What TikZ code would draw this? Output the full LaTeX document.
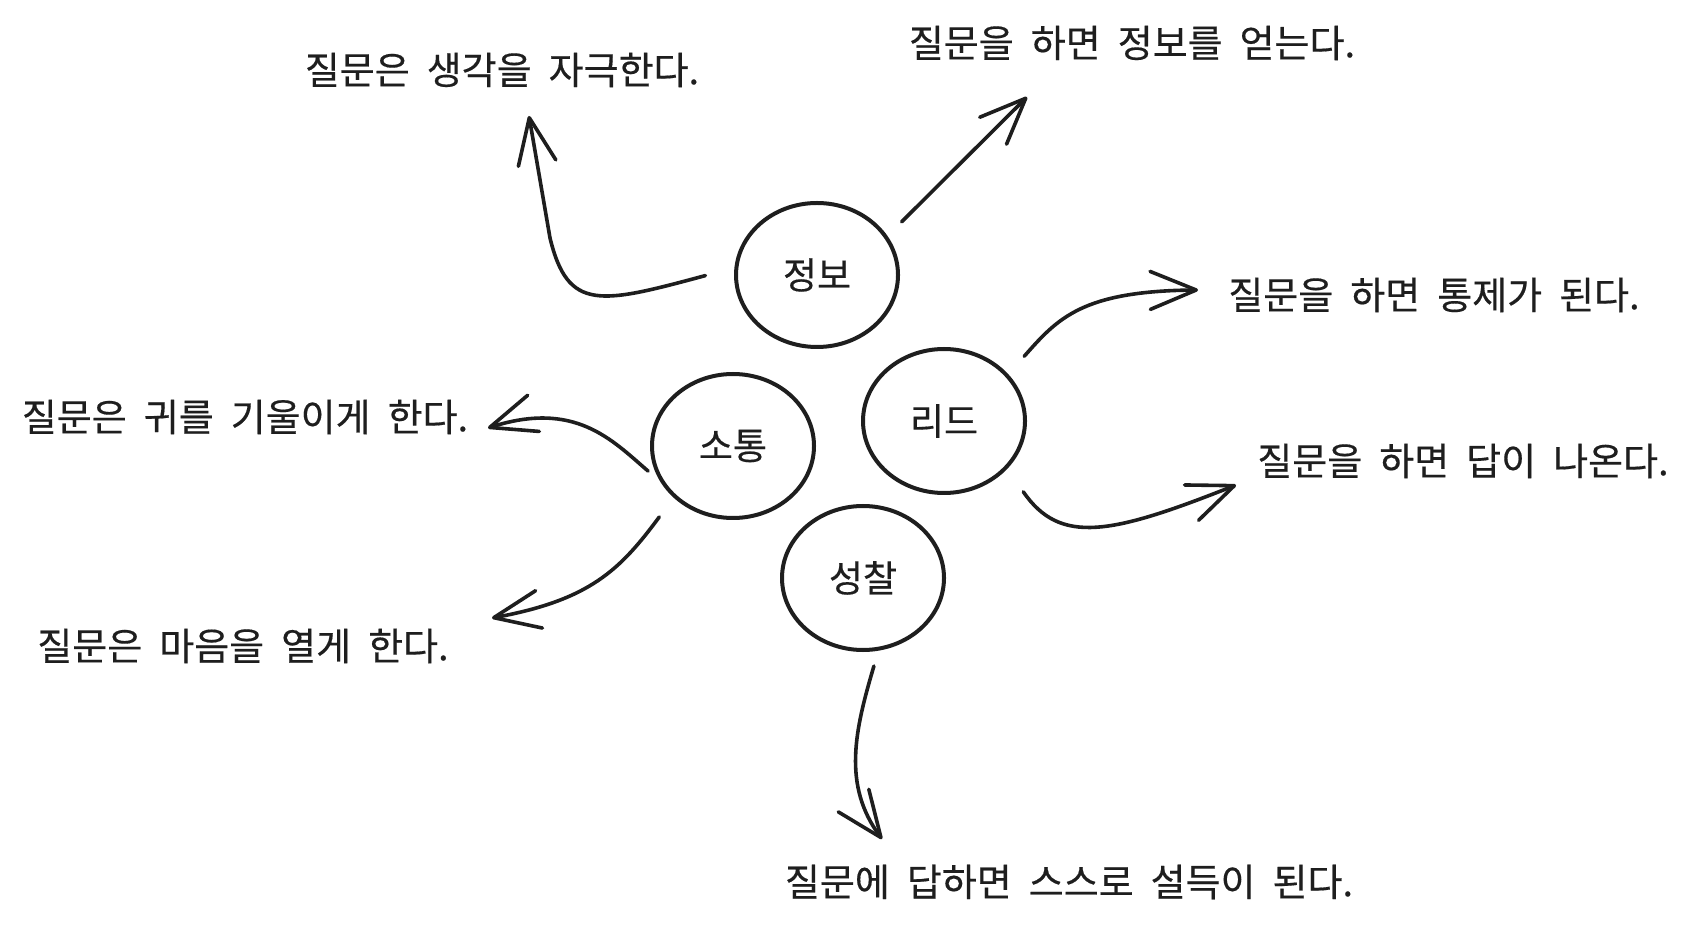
\documentclass[tikz,border=0pt]{standalone}
\usepackage{fontspec}
\setmainfont{Noto Sans CJK KR}[WordSpace=2,FakeBold=0.4]
\usetikzlibrary{shapes.geometric,arrows.meta}
\definecolor{ink}{HTML}{1E1E1E}

\begin{document}
\begin{tikzpicture}[x=0.5pt,y=-0.5pt,
		topic/.style={draw=ink,ellipse,line width=2pt,minimum width=81pt,minimum height=72pt,inner sep=0pt,text=ink,font=\fontsize{18.5}{22}\selectfont},
		claim/.style={inner sep=0pt,text=ink,font=\fontsize{19}{22}\selectfont},
		link/.style={draw=ink,line width=1.8pt,line cap=round,-{Straight Barb[length=23pt,width=19pt,round]}}]
		\useasboundingbox (0,0) rectangle (1685,929);

		\node[topic] at (817,275) (info) {정보};
		\node[topic] at (944,421) (lead) {리드};
		\node[topic] at (733,446) (comm) {소통};
		\node[topic] at (863,578) (refl) {성찰};

		\node[claim] at (502,70) (q1) {질문은 생각을 자극한다.};
		\node[claim] at (1132,43) (q2) {질문을 하면 정보를 얻는다.};
		\node[claim] at (1434,295) (q3) {질문을 하면 통제가 된다.};
		\node[claim] at (1463,461) (q4) {질문을 하면 답이 나온다.};
		\node[claim] at (245,417) (q5) {질문은 귀를 기울이게 한다.};
		\node[claim] at (243,646) (q6) {질문은 마음을 열게 한다.};
		\node[claim] at (1069,882) (q7) {질문에 답하면 스스로 설득이 된다.};

		\coordinate (t1) at (529,116);
		\coordinate (t2) at (1027,97);
		\coordinate (t3) at (1198,290);
		\coordinate (t4) at (1236,485);
		\coordinate (t5) at (488,428);
		\coordinate (t6) at (492,618);
		\coordinate (t7) at (882,839);

		\draw[link,shorten <=15pt] (info.175) .. controls (600,304) and (568,312) .. (550,238) -- (t1);
		\draw[link,shorten <=10pt] (info.29) -- (t2);
		\draw[link,shorten <=12pt] (lead.36) .. controls (1058,318) and (1082,291) .. (t3);
		\draw[link,shorten <=14pt] (lead.-37) .. controls (1060,545) and (1110,535) .. (t4);
		\draw[link,shorten <=8pt] (comm.206) .. controls (612,440) and (575,400) .. (t5);
		\draw[link,shorten <=12pt] (comm.221) .. controls (620,570) and (590,600) .. (t6);
		\draw[link,shorten <=8pt] (refl.282) .. controls (855,730) and (842,785) .. (t7);
	\end{tikzpicture}
\end{document}
